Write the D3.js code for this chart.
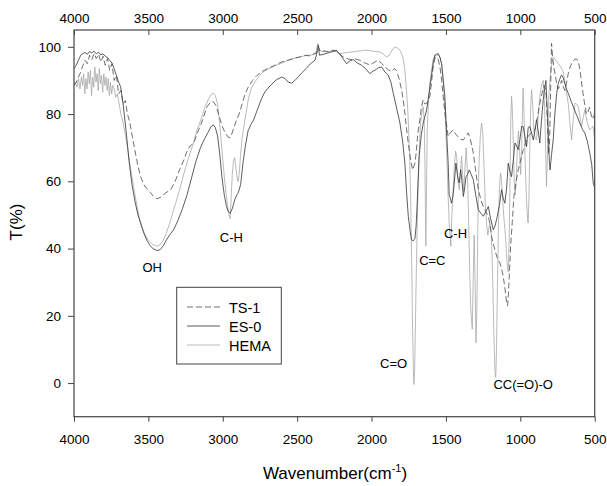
<!DOCTYPE html>
<html>
<head>
<meta charset="utf-8">
<script src="https://cdn.jsdelivr.net/npm/d3@7"></script>
<style>
    body { margin: 0; background: #fff; }
    text { font-family: "Liberation Sans", Arial, sans-serif; fill: #000; }
    .axis text { font-size: 13.5px; }
    .axis line { stroke: #444; }
    .frame { fill: none; stroke: #444; stroke-width: 1.2; }
    .legendBox { fill: #fff; stroke: #444; stroke-width: 1; }
</style>
</head>
<body>
<script>
//series names, as in the legend
var seriesNames = ["TS-1", "ES-0", "HEMA"];

//axis ticks
var xTicks = [4000, 3500, 3000, 2500, 2000, 1500, 1000, 500];
var yTicks = [0, 20, 40, 60, 80, 100];

//band labels and where they sit (wavenumber, T)
var bandLabels = ["OH", "C-H", "C=C", "C-H", "C=O", "CC(=O)-O"];
var bandWave = [3540, 3020, 1680, 1513, 1943, 1181];
var bandT = [33, 42, 35, 43, 4.4, -1.8];

//TS-1 spectrum (dashed)
var tsWave = [4000,3985,3970,3955,3940,3925,3910,3895,3880,3865,3850,3835,3820,3805,3790,3775,3760,3745,3730,3715,
    3700,3685,3670,3655,3642,3625,3608,3590,3570,3552,3530,3510,3485,3465,3442,3420,3400,3375,3350,3320,
    3290,3261,3240,3220,3194,3175,3150,3130,3108,3085,3064,3045,3025,3005,2985,2965,2952,2940,2925,2907,
    2890,2870,2850,2829,2800,2770,2739,2700,2650,2604,2560,2520,2480,2448,2420,2395,2370,2358,2345,2320,
    2290,2260,2230,2200,2168,2140,2110,2078,2045,2011,1985,1955,1930,1910,1888,1865,1848,1832,1815,1798,
    1780,1769,1758,1747,1735,1724,1716,1708,1700,1693,1685,1675,1665,1653,1642,1630,1620,1608,1598,1586,
    1575,1563,1552,1540,1529,1518,1507,1496,1485,1470,1451,1435,1418,1400,1383,1365,1350,1333,1316,1300,
    1282,1265,1249,1232,1215,1203,1193,1176,1159,1148,1137,1126,1115,1103,1092,1085,1081,1073,1065,1054,
    1043,1028,1014,997,980,963,947,925,902,885,870,855,840,828,818,810,803,797,790,783,
    775,765,755,745,735,722,710,700,690,678,665,650,635,622,610,600,590,578,566,555,
    545,535,525,515,505,500];
var tsT = [88.5,89.5,91,92.5,94.5,96,95,97.5,96.2,98,96.5,97.8,95.5,97.2,94.5,96.5,93,95,90,91.5,
    86,87,83,84,80.3,77.5,73.3,69,64.5,61.4,59,57.8,56.6,55.5,54.8,55.2,56,56.8,57.5,60,
    63.5,66.4,69,70.5,71.4,74,76.5,79,82,83.4,83.7,82.5,79.5,76.5,74.5,73.2,72.9,74,76,78.3,
    80,83,86,88,90,91.5,92.6,93.5,94.5,95.5,96,96.6,97,97.5,97.3,97.8,98.2,100,98.6,98.8,
    98.5,99,98.8,97.3,96.5,96.2,96.4,96,95.2,94.6,95.3,96,95,94,93.2,92.6,93.5,93,90.5,87.2,
    82,77.3,73,69.3,66,63.4,64.5,65.4,68.5,72.3,75.5,78.3,82,84.2,83,83.2,84,85.2,89,94,
    96.5,97,96.2,94,90,85,80.3,77,73.3,74.5,75.3,74,73.3,72.5,72.3,73.5,74.4,72,68.4,63,
    57.5,54.5,52.5,51,49.6,47,43.6,40.5,37.7,36.5,35.7,34,31.8,28,23.9,23,25.8,33,40.7,48,
    55.5,60,63.4,66.5,69.4,71.5,73.4,74.5,75.3,79,83,86,88.5,87,78,68,72,86,101,97,
    94,91.5,89,87.5,88.5,90,88,87,89,92,94,95.5,96.3,96.4,95.5,93.5,90,86,82.5,80,
    80.5,82,80,78.5,79.5,80];

//ES-0 spectrum (solid)
var esWave = [4000,3985,3970,3955,3940,3925,3910,3895,3880,3865,3850,3835,3820,3805,3790,3775,3760,3745,3730,3715,
    3700,3686,3670,3650,3630,3610,3590,3570,3552,3530,3510,3490,3470,3442,3420,3400,3380,3350,3328,3300,
    3270,3240,3210,3180,3150,3126,3100,3080,3064,3050,3035,3020,3005,2990,2975,2963,2950,2935,2920,2905,
    2896,2880,2864,2850,2830,2810,2795,2770,2740,2717,2680,2640,2604,2580,2560,2537,2515,2490,2470,2440,
    2410,2380,2365,2358,2350,2320,2290,2260,2235,2200,2168,2145,2123,2095,2067,2040,2011,1990,1977,1955,
    1932,1910,1888,1870,1854,1830,1809,1790,1776,1765,1753,1740,1731,1720,1708,1700,1693,1680,1665,1653,
    1640,1630,1620,1608,1595,1586,1575,1562,1552,1540,1529,1518,1507,1496,1485,1478,1470,1463,1455,1446,
    1433,1420,1411,1401,1392,1383,1374,1365,1355,1343,1330,1316,1300,1282,1265,1249,1232,1215,1200,1182,
    1168,1155,1140,1126,1115,1104,1092,1081,1070,1059,1048,1036,1025,1014,1003,991,981,969,958,947,
    936,924,913,902,891,880,869,858,846,835,828,820,813,805,800,790,779,768,756,745,
    734,723,712,700,690,678,660,644,620,600,583,566,550,533,520,510,500];
var esT = [93.5,94.5,96,97.5,98,98.3,97.8,98.6,98.2,98.7,97.9,98.4,97.6,97.9,97.2,96.8,96,95.2,93.5,91.5,
    89.5,88,83,75,66,59,54,50,47.5,44.5,42.5,41,40,39.4,39.7,40.8,42.5,44.5,45.8,48.5,
    52,56,61,66,70,72.3,74.5,76.2,76.8,76,73.5,68,61,56,52.5,51,50.5,52,54.5,56,
    56.6,59,65.5,70,75,77,78,81,84.5,86.6,88.5,90.2,91,90.5,89.5,89.2,90,91.2,92.2,93.5,
    95,96,98.5,100.5,97.5,97.8,98.2,98.6,98.9,97,95,95.8,96.2,95.2,94.5,93.5,92,92.8,93,93.8,
    94,92.5,91.6,89.5,86.2,81.5,77.3,71.5,65.4,57,49.6,45,42.6,42.3,43,47,53.6,67.4,74,77.3,
    79.5,81.2,84,88,92,95,97.5,97.8,98,96.8,95,90,85.2,75,65.4,56,55,53.5,55,58.5,
    65.4,61,59.5,63.5,60,55.5,58,61.4,62,63.4,62,60.5,56,51.5,50.5,49.6,51,52.5,49,45.6,
    47,49.6,53,57.5,55,53.5,58,65.4,63,61.4,66,71.4,70.5,69.4,72.3,76.3,76.3,73.4,70.3,76,
    76.3,74.4,72.3,75,78.3,75,71.4,78,84.2,88,90,82,75.3,66,63.4,68,72.3,80,86,89.1,
    90.5,91.6,90.8,89,87.5,86.2,84,82.2,79.5,77.3,75.5,74.3,72,68.4,65,59.5,58];

//HEMA spectrum (light)
var hemaWave = [4000,3990,3980,3970,3960,3950,3942,3935,3927,3920,3912,3905,3897,3890,3882,3875,3867,3860,3852,3845,
    3837,3830,3822,3815,3807,3800,3792,3785,3777,3770,3762,3755,3747,3740,3730,3720,3710,3700,3685,3670,
    3655,3640,3620,3600,3580,3560,3540,3520,3500,3470,3442,3420,3400,3380,3350,3320,3290,3260,3230,3200,
    3175,3148,3120,3095,3075,3064,3050,3035,3020,3005,2990,2978,2968,2958,2950,2944,2936,2928,2920,2912,
    2905,2898,2890,2880,2870,2851,2830,2810,2784,2760,2730,2700,2650,2600,2560,2520,2480,2440,2400,2375,
    2362,2350,2325,2290,2250,2212,2180,2150,2123,2090,2050,2011,1980,1944,1920,1899,1880,1862,1843,1825,
    1809,1790,1776,1765,1755,1745,1737,1730,1724,1718,1715,1710,1706,1702,1694,1686,1678,1671,1662,1653,
    1646,1641,1638,1635,1631,1626,1617,1608,1597,1586,1575,1563,1552,1540,1529,1518,1507,1496,1485,1478,
    1467,1460,1451,1443,1435,1428,1419,1410,1402,1395,1388,1380,1372,1364,1356,1348,1340,1333,1323,1317,
    1310,1304,1298,1292,1286,1278,1268,1260,1252,1243,1235,1226,1218,1210,1203,1195,1186,1178,1170,1165,
    1160,1154,1147,1140,1133,1126,1118,1110,1102,1095,1088,1081,1075,1069,1064,1059,1054,1048,1041,1034,
    1028,1020,1012,1005,998,991,985,981,975,967,958,950,947,942,936,930,924,917,910,902,
    891,880,869,858,846,838,830,824,818,810,801,792,779,765,745,728,712,695,678,666,
    655,645,633,622,611,600,588,577,566,550,533,520,510,500];
var hemaT = [88.5,89.5,88,90.5,87.5,91,88.5,92,86,90.5,87.5,92.5,89,93,85.5,91,88,94,89.5,92,
    87,93.5,89,91.5,86.5,92,88.5,91,87,90.5,85.5,89.5,86,88.5,87.5,85,86,84,80,77.5,
    74,70,64,58.5,53.5,49,46,44,42.5,41.2,40.7,41.2,42.5,44.5,48.5,53,57.5,62.5,67,71,
    75,78.2,82,84.5,86,86.2,85.5,83,77,69,61.5,56.5,53,50,48.9,55,62,66,67,64,
    61.5,60,62,68,73,78.2,84,87.5,89.6,91,92.5,93.3,94.3,95.2,96,96.6,97,97.4,97.6,98,
    101,99,98.5,98.6,98.8,98,98.2,98.4,98.5,98.7,99,98.9,98.6,98.5,97.8,97,97.5,99,100,99.6,
    99,97,93,87,80,69,55.5,35,16,3,-0.4,4,15,25.8,45,60.4,71,77.3,80.5,82.2,
    78,65.4,52,40.7,55,75,84,89,93,96,97.2,97.5,97.6,97,95,90,82,70.3,55.5,47.6,
    40.7,50,57.5,65,69,67.4,60,57.5,63,67.5,62,57,64,70,63,50,33,22,16,30,
    44,30,12,22,45,65,74,77.3,74,63,53,47,44,46.5,47.5,44,32,15,3,1.7,
    10,28,47,58,62.5,60,54,49,45,40,35,33,42,62,78,85.3,82,72,60,56,
    60,70,75,69,62,70,82,87.7,80,65,54,48,47.6,55,70,82,87.2,83,76,73,
    72.3,79,85.2,88.5,90,84,70,58.5,68,84,90,94,97,96.3,95,94,92.6,88,83.2,77,
    72.3,78,83.2,83,82.2,79.5,76.3,79,81.2,77.5,75.3,76,76.3,72];

(function(){
    var seriesWave = [tsWave, esWave, hemaWave];
    var seriesT = [tsT, esT, hemaT];
    //line styles per series
    var seriesColor = ["#4a4a4a", "#333", "#a8a8a8"];
    var seriesDash = ["6,3", null, null];

    window.onload = setChart();

    function setChart(){
        var width = 607,
            height = 486,
            left = 74,
            right = 594.7,
            top = 30,
            bottom = 416.7;

        var svg = d3.select("body")
            .append("svg")
            .attr("width", width)
            .attr("height", height);

        var x = d3.scaleLinear()
            .domain([4000, 500])
            .range([left, right]);

        var y = d3.scaleLinear()
            .domain([-10, 105])
            .range([bottom, top]);

        //clip lines to the plot frame
        svg.append("clipPath")
            .attr("id", "plotClip")
            .append("rect")
            .attr("x", left)
            .attr("y", top)
            .attr("width", right - left)
            .attr("height", bottom - top);

        var line = d3.line()
            .x(function(d){ return x(d[0]); })
            .y(function(d){ return y(d[1]); });

        var lines = svg.append("g").attr("clip-path", "url(#plotClip)");
        //draw HEMA first so the darker lines stay on top
        [2, 1, 0].forEach(function(i){
            var pts = seriesWave[i].map(function(w, j){ return [w, seriesT[i][j]]; });
            lines.append("path")
                .datum(pts)
                .attr("fill", "none")
                .attr("stroke", seriesColor[i])
                .attr("stroke-width", 0.8)
                .attr("stroke-dasharray", seriesDash[i])
                .attr("d", line);
        });

        //axes
        var fmt = d3.format("d");
        svg.append("g")
            .attr("class", "axis")
            .attr("transform", "translate(0," + top + ")")
            .call(d3.axisTop(x).tickValues(xTicks).tickFormat(fmt).tickSizeInner(-5).tickSizeOuter(0).tickPadding(7));
        svg.append("g")
            .attr("class", "axis")
            .attr("transform", "translate(0," + bottom + ")")
            .call(d3.axisBottom(x).tickValues(xTicks).tickFormat(fmt).tickSize(5).tickPadding(12.7));
        svg.append("g")
            .attr("class", "axis")
            .attr("transform", "translate(" + left + ",0)")
            .call(d3.axisLeft(y).tickValues(yTicks).tickFormat(fmt).tickSize(6).tickPadding(7));
        svg.selectAll(".axis .domain").remove();

        svg.append("rect")
            .attr("class", "frame")
            .attr("x", left)
            .attr("y", top)
            .attr("width", right - left)
            .attr("height", bottom - top);

        //band labels
        svg.selectAll(".band")
            .data(bandLabels)
            .enter()
            .append("text")
            .attr("class", "band")
            .attr("x", function(d, i){ return x(bandWave[i]); })
            .attr("y", function(d, i){ return y(bandT[i]); })
            .style("font-size", "13px")
            .text(function(d){ return d; });

        //axis titles
        svg.append("text")
            .attr("transform", "translate(22,222) rotate(-90)")
            .attr("text-anchor", "middle")
            .style("font-size", "17px")
            .text("T(%)");

        var xTitle = svg.append("text")
            .attr("x", 335)
            .attr("y", 479)
            .attr("text-anchor", "middle")
            .style("font-size", "17px");
        xTitle.append("tspan").text("Wavenumber(cm");
        xTitle.append("tspan").attr("dy", -7).style("font-size", "11px").text("-1");
        xTitle.append("tspan").attr("dy", 7).text(")");

        //legend
        var legend = svg.append("g");
        legend.append("rect")
            .attr("class", "legendBox")
            .attr("x", 176.7)
            .attr("y", 287.3)
            .attr("width", 104.6)
            .attr("height", 76.7);
        seriesNames.forEach(function(name, i){
            var ly = 307 + i * 19;
            legend.append("line")
                .attr("x1", 187)
                .attr("x2", 220)
                .attr("y1", ly)
                .attr("y2", ly)
                .attr("stroke", seriesColor[i])
                .attr("stroke-width", 0.8)
                .attr("stroke-dasharray", seriesDash[i]);
            legend.append("text")
                .attr("x", 229)
                .attr("y", ly + 6)
                .style("font-size", "14.5px")
                .text(name);
        });
    };
})();
</script>
</body>
</html>
